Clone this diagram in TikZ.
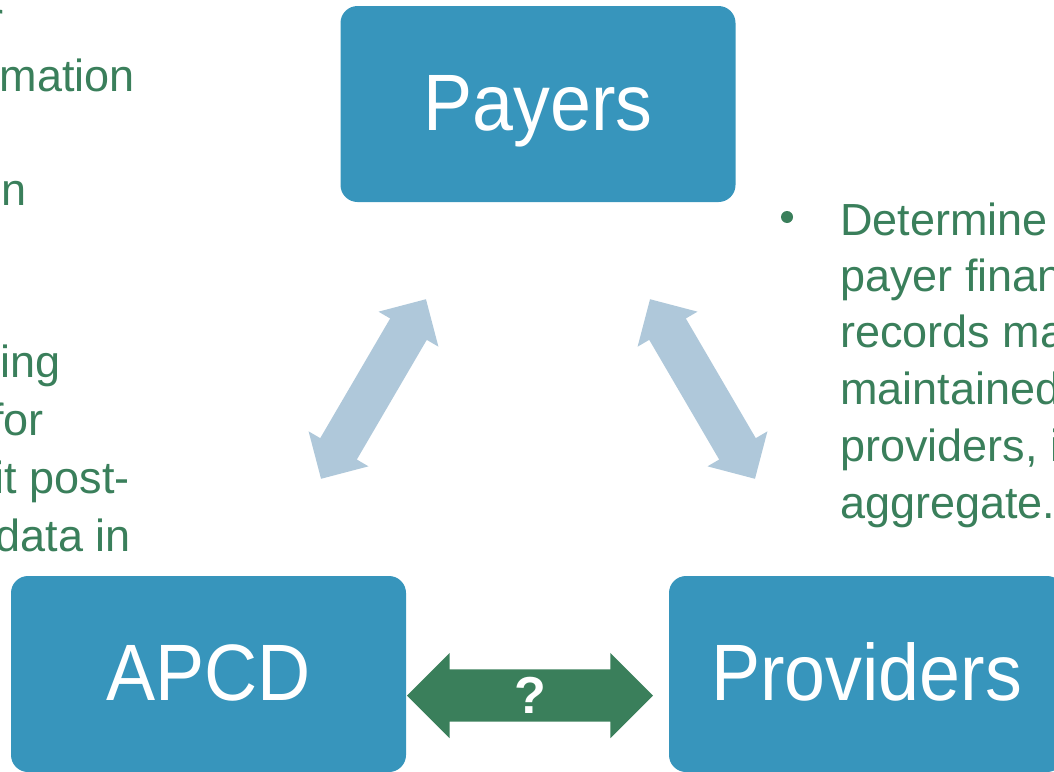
\documentclass[tikz,border=0pt]{standalone}
\usepackage{fontspec}
\setmainfont{Liberation Sans}
\newfontfamily\boxfont[FakeStretch=0.92]{Liberation Sans}
\usetikzlibrary{shapes.arrows}
\definecolor{boxblue}{HTML}{3795BC}
\definecolor{lightarrow}{HTML}{AFC8DA}
\definecolor{darkgreen}{HTML}{3A7F5B}
\tikzset{
  box/.style={rectangle, rounded corners=17pt, fill=boxblue, text=white,
    minimum width=395pt, minimum height=196pt, inner sep=0pt,
    font=\boxfont\fontsize{80}{96}\selectfont, text height=57pt, text depth=5pt},
  bodyleft/.style={text=darkgreen, font=\fontsize{45}{57}\selectfont, inner sep=0pt, anchor=base east},
  bodyright/.style={text=darkgreen, font=\fontsize{45}{57}\selectfont, inner sep=0pt, anchor=base west},
  linkarrow/.style={double arrow, fill=lightarrow, draw=none, minimum height=208pt,
    minimum width=69pt, inner xsep=0pt, inner ysep=21pt,
    double arrow head extend=13.5pt, double arrow tip angle=90},
  qarrow/.style={double arrow, fill=darkgreen, draw=none, minimum height=246pt,
    minimum width=85pt, inner xsep=0pt, inner ysep=26pt,
    double arrow head extend=16.5pt, double arrow tip angle=90},
  qmarkstyle/.style={text=white, font=\bfseries\fontsize{52}{60}\selectfont, inner sep=0pt},
  bulletdot/.style={circle, fill=darkgreen, minimum size=12pt, inner sep=0pt}
}
\begin{document}
\begin{tikzpicture}[x=1pt,y=-1pt]
\useasboundingbox (0,0) rectangle (1054,771);
\clip (0,0) rectangle (1054,771);

% boxes
\node[box] (payers) at (538,104) {Payers};
\node[box] (apcd) at (208.5,674) {APCD};
\node[box] (providers) at (866.5,674) {Providers};

% light blue double arrows
\node[linkarrow, rotate=59.7] (arrowleft) at (373.5,389) {};
\node[linkarrow, rotate=-59.7] (arrowright) at (702.5,389) {};

% green double arrow with question mark
\node[qarrow] (qarrow) at (530,695.5) {};
\node[qmarkstyle] (qmark) at (qarrow.center) {?};

% left text (cut off at the left edge)
\node[bodyleft] (l1) at (4,34) {r};
\node[bodyleft] (l2) at (135,91) {mation};
\node[bodyleft] (l3) at (27,205) {n};
\node[bodyleft] (l4) at (61,377) {ing};
\node[bodyleft] (l5) at (44,435) {for};
\node[bodyleft] (l6) at (130,493) {it post-};
\node[bodyleft] (l7) at (131,551) {data in};

% right text (cut off at the right edge)
\node[bulletdot] (bullet) at (787,217) {};
\node[bodyright] (r1) at (840,235) {Determine};
\node[bodyright] (r2) at (840,291) {payer finan};
\node[bodyright] (r3) at (840,347) {records ma};
\node[bodyright] (r4) at (840,404) {maintained};
\node[bodyright] (r5) at (840,461) {providers, i};
\node[bodyright] (r6) at (840,518) {aggregate.};
\end{tikzpicture}
\end{document}
